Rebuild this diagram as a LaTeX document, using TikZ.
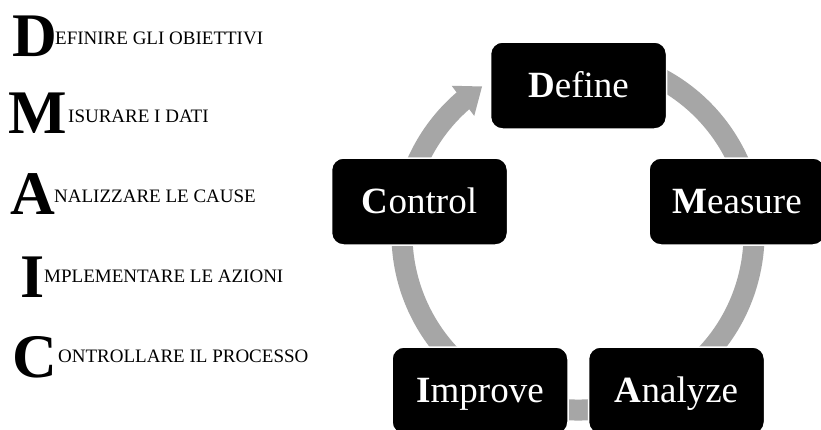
\documentclass[tikz,border=0pt]{standalone}
\usepackage{fontspec}
\setmainfont{Liberation Serif}
\usetikzlibrary{arrows.meta,bending}
\definecolor{ringgray}{HTML}{A6A6A6}
\tikzset{
  stage/.style={draw=white, line width=1.5pt, fill=black, rounded corners=12pt,
    minimum width=176pt, minimum height=87pt, inner sep=0pt, text=white,
    font=\fontsize{37}{44}\selectfont, text height=24pt, text depth=0pt},
  initial/.style={font=\bfseries\fontsize{62}{62}\selectfont, inner sep=0pt, anchor=base west},
  phrase/.style={font=\fontsize{19}{22}\selectfont, inner sep=0pt, anchor=base west},
  ring/.style={draw=ringgray, line width=21pt},
}
\begin{document}
\begin{tikzpicture}[x=1pt,y=-1pt]
\useasboundingbox (0,0) rectangle (821,429);
\clip (0,0) rectangle (821,429);
\fill[white] (0,0) rectangle (821,429);

% acronym list on the left
\node[initial] (iD) at (12,56)  {D};
\node[phrase]  (pD) at (55,44)  {EFINIRE GLI OBIETTIVI};
\node[initial] (iM) at (8,133)  {M};
\node[phrase]  (pM) at (68,122) {ISURARE I DATI};
\node[initial] (iA) at (10,214) {A};
\node[phrase]  (pA) at (54,202) {NALIZZARE LE CAUSE};
\node[initial] (iI) at (20,297) {I};
\node[phrase]  (pI) at (44,282) {MPLEMENTARE LE AZIONI};
\node[initial] (iC) at (12,377) {C};
\node[phrase]  (pC) at (58,362) {ONTROLLARE IL PROCESSO};

% cycle ring with its arrow into Define
\coordinate (hub) at (578,234);
\draw[ring, -{Triangle[width=36pt,length=24pt,flex]}]
  ([shift={(-75:176)}]hub) arc[start angle=-75, end angle=237, radius=176];

% phase boxes
\node[stage] (define)  at (578.5,85.5)  {\textbf{D}efine};
\node[stage] (measure) at (737,201.5)   {\textbf{M}easure};
\node[stage] (analyze) at (676.5,390.5) {\textbf{A}nalyze};
\node[stage] (improve) at (480,390.5)   {\textbf{I}mprove};
\node[stage] (control) at (419.5,201.5) {\textbf{C}ontrol};
\end{tikzpicture}
\end{document}
